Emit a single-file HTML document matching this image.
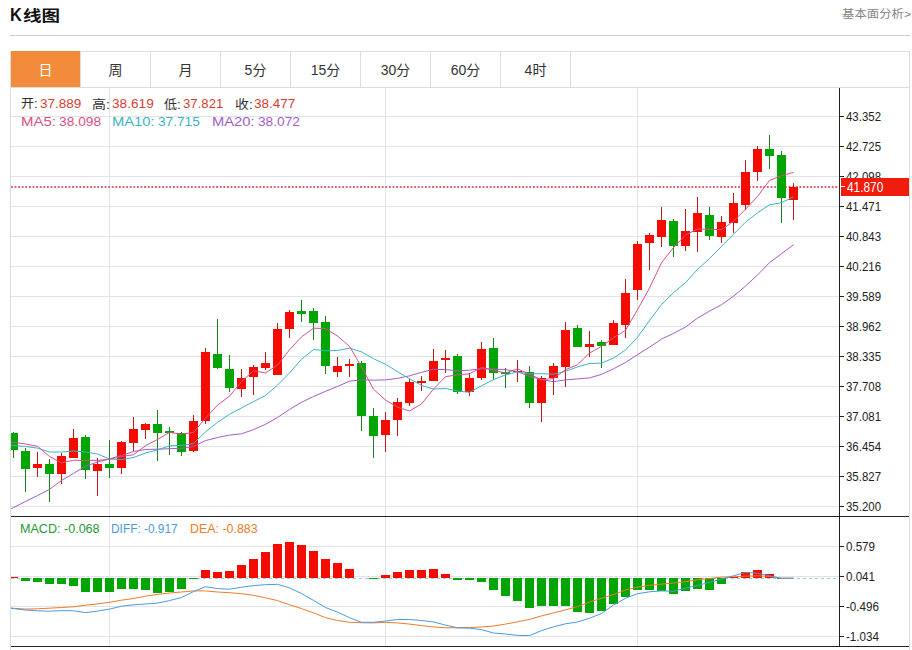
<!DOCTYPE html>
<html><head><meta charset="utf-8"><title>K线图</title>
<style>
html,body{margin:0;padding:0;background:#fff;}
#wrap{position:relative;width:912px;height:650px;overflow:hidden;background:#fff;font-family:"Liberation Sans","Noto Sans CJK SC",sans-serif;}
.abs{position:absolute;white-space:nowrap;}
.tx{position:absolute;white-space:nowrap;line-height:1;transform-origin:0 0;}
#hr{left:10px;top:35px;width:900px;height:1px;background:#d0d0d0;}
#tabs{left:10px;top:51px;width:898px;height:35px;border:1px solid #dcdcdc;border-bottom:none;}
.tab{position:absolute;top:0;height:35px;width:69px;border-right:1px solid #dcdcdc;text-align:center;line-height:36px;font-size:14px;color:#333;}
.tab.on{background:#f28b3a;color:#fff;top:-1px;height:36px;line-height:39px;}
#chart{left:10px;top:87px;width:898px;height:563px;border:1px solid #dcdcdc;border-bottom:none;}
svg text{font-family:"Liberation Sans","Noto Sans CJK SC",sans-serif;font-size:13px;fill:#222;}

</style></head><body>
<div id="wrap">
<div id="hr" class="abs"></div>
<div id="tabs" class="abs">
<div class="tab on" style="left:0">日</div>
<div class="tab" style="left:70px">周</div>
<div class="tab" style="left:140px">月</div>
<div class="tab" style="left:210px">5分</div>
<div class="tab" style="left:280px">15分</div>
<div class="tab" style="left:350px">30分</div>
<div class="tab" style="left:420px">60分</div>
<div class="tab" style="left:490px">4时</div>
</div>
<div id="chart" class="abs"></div>
<svg class="abs" style="left:0;top:0" width="912" height="650" viewBox="0 0 912 650" shape-rendering="crispEdges">
<defs>
<clipPath id="cmain"><rect x="11" y="88" width="828" height="428"/></clipPath>
<clipPath id="cmacd"><rect x="11" y="517" width="828" height="129"/></clipPath>
</defs>
<line x1="11" y1="116.5" x2="839" y2="116.5" stroke="#e0e4e9" stroke-width="1"/>
<line x1="11" y1="146.5" x2="839" y2="146.5" stroke="#e0e4e9" stroke-width="1"/>
<line x1="11" y1="176.5" x2="839" y2="176.5" stroke="#e0e4e9" stroke-width="1"/>
<line x1="11" y1="206.5" x2="839" y2="206.5" stroke="#e0e4e9" stroke-width="1"/>
<line x1="11" y1="236.5" x2="839" y2="236.5" stroke="#e0e4e9" stroke-width="1"/>
<line x1="11" y1="266.5" x2="839" y2="266.5" stroke="#e0e4e9" stroke-width="1"/>
<line x1="11" y1="296.5" x2="839" y2="296.5" stroke="#e0e4e9" stroke-width="1"/>
<line x1="11" y1="326.5" x2="839" y2="326.5" stroke="#e0e4e9" stroke-width="1"/>
<line x1="11" y1="356.5" x2="839" y2="356.5" stroke="#e0e4e9" stroke-width="1"/>
<line x1="11" y1="386.5" x2="839" y2="386.5" stroke="#e0e4e9" stroke-width="1"/>
<line x1="11" y1="416.5" x2="839" y2="416.5" stroke="#e0e4e9" stroke-width="1"/>
<line x1="11" y1="446.5" x2="839" y2="446.5" stroke="#e0e4e9" stroke-width="1"/>
<line x1="11" y1="476.5" x2="839" y2="476.5" stroke="#e0e4e9" stroke-width="1"/>
<line x1="11" y1="506.5" x2="839" y2="506.5" stroke="#e0e4e9" stroke-width="1"/>
<line x1="109.5" y1="88" x2="109.5" y2="516" stroke="#e0e4e9" stroke-width="1"/>
<line x1="109.5" y1="517" x2="109.5" y2="646" stroke="#e0e4e9" stroke-width="1"/>
<line x1="385.5" y1="88" x2="385.5" y2="516" stroke="#e0e4e9" stroke-width="1"/>
<line x1="385.5" y1="517" x2="385.5" y2="646" stroke="#e0e4e9" stroke-width="1"/>
<line x1="637.5" y1="88" x2="637.5" y2="516" stroke="#e0e4e9" stroke-width="1"/>
<line x1="637.5" y1="517" x2="637.5" y2="646" stroke="#e0e4e9" stroke-width="1"/>
<line x1="11" y1="546.5" x2="839" y2="546.5" stroke="#e0e4e9" stroke-width="1"/>
<line x1="11" y1="576.5" x2="839" y2="576.5" stroke="#e0e4e9" stroke-width="1"/>
<line x1="11" y1="606.5" x2="839" y2="606.5" stroke="#e0e4e9" stroke-width="1"/>
<line x1="11" y1="636.5" x2="839" y2="636.5" stroke="#e0e4e9" stroke-width="1"/>
<line x1="11" y1="187" x2="839" y2="187" stroke="#e0606a" stroke-width="1.8" stroke-dasharray="1.8,1.8" shape-rendering="auto"/>
<g clip-path="url(#cmain)">
<rect x="13.0" y="432" width="1" height="26" fill="#15841c"/>
<rect x="9.0" y="433" width="9" height="17" fill="#03a505"/>
<rect x="25.0" y="448" width="1" height="44" fill="#15841c"/>
<rect x="21.0" y="451" width="9" height="18" fill="#03a505"/>
<rect x="37.0" y="452" width="1" height="25" fill="#c41810"/>
<rect x="33.0" y="464" width="9" height="4" fill="#f40c02"/>
<rect x="49.0" y="459" width="1" height="43" fill="#15841c"/>
<rect x="45.0" y="464" width="9" height="10" fill="#03a505"/>
<rect x="61.0" y="453" width="1" height="31" fill="#c41810"/>
<rect x="57.0" y="456" width="9" height="18" fill="#f40c02"/>
<rect x="73.0" y="429" width="1" height="29" fill="#c41810"/>
<rect x="69.0" y="438" width="9" height="20" fill="#f40c02"/>
<rect x="85.0" y="435" width="1" height="44" fill="#15841c"/>
<rect x="81.0" y="437" width="9" height="33" fill="#03a505"/>
<rect x="97.0" y="458" width="1" height="38" fill="#c41810"/>
<rect x="93.0" y="464" width="9" height="7" fill="#f40c02"/>
<rect x="109.0" y="440" width="1" height="38" fill="#15841c"/>
<rect x="105.0" y="464" width="9" height="4" fill="#03a505"/>
<rect x="121.0" y="441" width="1" height="33" fill="#c41810"/>
<rect x="117.0" y="442" width="9" height="26" fill="#f40c02"/>
<rect x="133.0" y="417" width="1" height="34" fill="#c41810"/>
<rect x="129.0" y="429" width="9" height="14" fill="#f40c02"/>
<rect x="145.0" y="423" width="1" height="16" fill="#c41810"/>
<rect x="141.0" y="424" width="9" height="6" fill="#f40c02"/>
<rect x="157.0" y="410" width="1" height="51" fill="#15841c"/>
<rect x="153.0" y="424" width="9" height="9" fill="#03a505"/>
<rect x="169.0" y="427" width="1" height="28" fill="#15841c"/>
<rect x="165.0" y="431" width="9" height="2" fill="#03a505"/>
<rect x="181.0" y="432" width="1" height="24" fill="#15841c"/>
<rect x="177.0" y="433" width="9" height="19" fill="#03a505"/>
<rect x="193.0" y="415" width="1" height="37" fill="#c41810"/>
<rect x="189.0" y="421" width="9" height="30" fill="#f40c02"/>
<rect x="205.0" y="348" width="1" height="76" fill="#c41810"/>
<rect x="201.0" y="352" width="9" height="69" fill="#f40c02"/>
<rect x="217.0" y="319" width="1" height="50" fill="#15841c"/>
<rect x="213.0" y="354" width="9" height="14" fill="#03a505"/>
<rect x="229.0" y="355" width="1" height="37" fill="#15841c"/>
<rect x="225.0" y="369" width="9" height="19" fill="#03a505"/>
<rect x="241.0" y="369" width="1" height="28" fill="#c41810"/>
<rect x="237.0" y="378" width="9" height="11" fill="#f40c02"/>
<rect x="253.0" y="365" width="1" height="30" fill="#c41810"/>
<rect x="249.0" y="367" width="9" height="10" fill="#f40c02"/>
<rect x="265.0" y="352" width="1" height="18" fill="#c41810"/>
<rect x="261.0" y="363" width="9" height="5" fill="#f40c02"/>
<rect x="277.0" y="323" width="1" height="52" fill="#c41810"/>
<rect x="273.0" y="329" width="9" height="46" fill="#f40c02"/>
<rect x="289.0" y="310" width="1" height="28" fill="#c41810"/>
<rect x="285.0" y="312" width="9" height="17" fill="#f40c02"/>
<rect x="301.0" y="300" width="1" height="22" fill="#15841c"/>
<rect x="297.0" y="311" width="9" height="3" fill="#03a505"/>
<rect x="313.0" y="308" width="1" height="32" fill="#15841c"/>
<rect x="309.0" y="311" width="9" height="12" fill="#03a505"/>
<rect x="325.0" y="316" width="1" height="58" fill="#15841c"/>
<rect x="321.0" y="322" width="9" height="44" fill="#03a505"/>
<rect x="337.0" y="357" width="1" height="20" fill="#c41810"/>
<rect x="333.0" y="366" width="9" height="6" fill="#f40c02"/>
<rect x="349.0" y="359" width="1" height="18" fill="#c41810"/>
<rect x="345.0" y="364" width="9" height="2" fill="#f40c02"/>
<rect x="361.0" y="361" width="1" height="70" fill="#15841c"/>
<rect x="357.0" y="363" width="9" height="53" fill="#03a505"/>
<rect x="373.0" y="408" width="1" height="50" fill="#15841c"/>
<rect x="369.0" y="416" width="9" height="20" fill="#03a505"/>
<rect x="385.0" y="412" width="1" height="40" fill="#c41810"/>
<rect x="381.0" y="420" width="9" height="15" fill="#f40c02"/>
<rect x="397.0" y="398" width="1" height="38" fill="#c41810"/>
<rect x="393.0" y="402" width="9" height="18" fill="#f40c02"/>
<rect x="409.0" y="379" width="1" height="27" fill="#c41810"/>
<rect x="405.0" y="382" width="9" height="21" fill="#f40c02"/>
<rect x="421.0" y="376" width="1" height="15" fill="#c41810"/>
<rect x="417.0" y="381" width="9" height="2" fill="#f40c02"/>
<rect x="433.0" y="349" width="1" height="32" fill="#c41810"/>
<rect x="429.0" y="361" width="9" height="20" fill="#f40c02"/>
<rect x="445.0" y="350" width="1" height="23" fill="#c41810"/>
<rect x="441.0" y="358" width="9" height="2" fill="#f40c02"/>
<rect x="457.0" y="354" width="1" height="40" fill="#15841c"/>
<rect x="453.0" y="356" width="9" height="36" fill="#03a505"/>
<rect x="469.0" y="373" width="1" height="23" fill="#c41810"/>
<rect x="465.0" y="378" width="9" height="14" fill="#f40c02"/>
<rect x="481.0" y="342" width="1" height="38" fill="#c41810"/>
<rect x="477.0" y="349" width="9" height="29" fill="#f40c02"/>
<rect x="493.0" y="338" width="1" height="42" fill="#15841c"/>
<rect x="489.0" y="348" width="9" height="25" fill="#03a505"/>
<rect x="505.0" y="368" width="1" height="20" fill="#15841c"/>
<rect x="501.0" y="372" width="9" height="2" fill="#03a505"/>
<rect x="517.0" y="360" width="1" height="22" fill="#c41810"/>
<rect x="513.0" y="371" width="9" height="1" fill="#f40c02"/>
<rect x="529.0" y="366" width="1" height="42" fill="#15841c"/>
<rect x="525.0" y="372" width="9" height="31" fill="#03a505"/>
<rect x="541.0" y="376" width="1" height="46" fill="#c41810"/>
<rect x="537.0" y="378" width="9" height="25" fill="#f40c02"/>
<rect x="553.0" y="363" width="1" height="32" fill="#c41810"/>
<rect x="549.0" y="366" width="9" height="12" fill="#f40c02"/>
<rect x="565.0" y="322" width="1" height="65" fill="#c41810"/>
<rect x="561.0" y="330" width="9" height="37" fill="#f40c02"/>
<rect x="577.0" y="325" width="1" height="22" fill="#15841c"/>
<rect x="573.0" y="328" width="9" height="19" fill="#03a505"/>
<rect x="589.0" y="331" width="1" height="26" fill="#c41810"/>
<rect x="585.0" y="344" width="9" height="3" fill="#f40c02"/>
<rect x="601.0" y="340" width="1" height="28" fill="#15841c"/>
<rect x="597.0" y="342" width="9" height="4" fill="#03a505"/>
<rect x="613.0" y="320" width="1" height="25" fill="#c41810"/>
<rect x="609.0" y="323" width="9" height="22" fill="#f40c02"/>
<rect x="625.0" y="279" width="1" height="59" fill="#c41810"/>
<rect x="621.0" y="293" width="9" height="32" fill="#f40c02"/>
<rect x="637.0" y="241" width="1" height="59" fill="#c41810"/>
<rect x="633.0" y="244" width="9" height="46" fill="#f40c02"/>
<rect x="649.0" y="233" width="1" height="37" fill="#c41810"/>
<rect x="645.0" y="235" width="9" height="8" fill="#f40c02"/>
<rect x="661.0" y="207" width="1" height="40" fill="#c41810"/>
<rect x="657.0" y="220" width="9" height="17" fill="#f40c02"/>
<rect x="673.0" y="219" width="1" height="38" fill="#15841c"/>
<rect x="669.0" y="221" width="9" height="25" fill="#03a505"/>
<rect x="685.0" y="209" width="1" height="42" fill="#c41810"/>
<rect x="681.0" y="231" width="9" height="15" fill="#f40c02"/>
<rect x="697.0" y="197" width="1" height="55" fill="#c41810"/>
<rect x="693.0" y="213" width="9" height="19" fill="#f40c02"/>
<rect x="709.0" y="207" width="1" height="33" fill="#15841c"/>
<rect x="705.0" y="215" width="9" height="21" fill="#03a505"/>
<rect x="721.0" y="216" width="1" height="27" fill="#c41810"/>
<rect x="717.0" y="222" width="9" height="15" fill="#f40c02"/>
<rect x="733.0" y="193" width="1" height="40" fill="#c41810"/>
<rect x="729.0" y="203" width="9" height="20" fill="#f40c02"/>
<rect x="745.0" y="160" width="1" height="50" fill="#c41810"/>
<rect x="741.0" y="172" width="9" height="33" fill="#f40c02"/>
<rect x="757.0" y="146" width="1" height="35" fill="#c41810"/>
<rect x="753.0" y="149" width="9" height="23" fill="#f40c02"/>
<rect x="769.0" y="135" width="1" height="34" fill="#15841c"/>
<rect x="765.0" y="149" width="9" height="7" fill="#03a505"/>
<rect x="781.0" y="151" width="1" height="72" fill="#15841c"/>
<rect x="777.0" y="155" width="9" height="43" fill="#03a505"/>
<rect x="793.0" y="183" width="1" height="37" fill="#c41810"/>
<rect x="789.0" y="187" width="9" height="13" fill="#f40c02"/>
</g>
<g clip-path="url(#cmain)" fill="none" stroke-width="1" stroke-linejoin="round" shape-rendering="auto">
<polyline points="10.5,509.1 13.5,507.6 25.5,501.5 37.5,495.5 49.5,489.4 61.5,480.5 73.5,473.4 85.5,466.2 97.5,462.0 109.5,458.9 121.5,455.4 133.5,451.5 145.5,449.5 157.5,449.2 169.5,448.7 181.5,448.3 193.5,446.5 205.5,440.6 217.5,437.5 229.5,435.1 241.5,433.8 253.5,429.6 265.5,424.3 277.5,417.5 289.5,409.4 301.5,402.3 313.5,396.5 325.5,391.3 337.5,386.4 349.5,381.2 361.5,379.8 373.5,380.2 385.5,379.9 397.5,378.4 409.5,375.8 421.5,372.3 433.5,369.3 445.5,369.6 457.5,370.8 469.5,370.2 481.5,368.8 493.5,369.1 505.5,369.6 517.5,371.7 529.5,376.3 541.5,379.5 553.5,381.7 565.5,379.9 577.5,378.9 589.5,377.9 601.5,374.4 613.5,368.8 625.5,362.5 637.5,354.6 649.5,347.2 661.5,339.1 673.5,333.4 685.5,327.1 697.5,318.1 709.5,311.1 721.5,304.7 733.5,296.2 745.5,286.1 757.5,275.0 769.5,262.7 781.5,253.7 793.5,244.7" stroke="#a45cc8"/>
<polyline points="10.5,445.2 13.5,445.5 25.5,446.5 37.5,448.1 49.5,452.0 61.5,452.0 73.5,451.0 85.5,452.0 97.5,454.0 109.5,459.0 121.5,459.6 133.5,457.5 145.5,453.0 157.5,449.9 169.5,445.8 181.5,445.4 193.5,443.6 205.5,431.9 217.5,422.3 229.5,414.3 241.5,407.9 253.5,401.6 265.5,395.5 277.5,385.1 289.5,373.0 301.5,359.2 313.5,349.5 325.5,350.8 337.5,350.5 349.5,348.1 361.5,351.8 373.5,358.7 385.5,364.3 397.5,371.6 409.5,378.7 421.5,385.4 433.5,389.1 445.5,388.4 457.5,391.0 469.5,392.4 481.5,385.8 493.5,379.5 505.5,374.9 517.5,371.9 529.5,373.9 541.5,373.7 553.5,374.2 565.5,371.4 577.5,366.9 589.5,363.5 601.5,363.1 613.5,358.1 625.5,350.0 637.5,337.3 649.5,320.5 661.5,304.6 673.5,292.6 685.5,282.7 697.5,269.4 709.5,258.6 721.5,246.3 733.5,234.3 745.5,222.2 757.5,212.8 769.5,204.8 781.5,202.7 793.5,196.8" stroke="#3ab4c4"/>
<polyline points="10.5,441.9 13.5,442.3 25.5,444.0 37.5,446.3 49.5,456.5 61.5,462.8 73.5,460.3 85.5,460.4 97.5,460.4 109.5,459.3 121.5,456.5 133.5,454.7 145.5,445.7 157.5,439.4 169.5,432.4 181.5,434.2 193.5,432.5 205.5,418.1 217.5,405.2 229.5,396.2 241.5,381.5 253.5,370.8 265.5,372.9 277.5,365.1 289.5,349.8 301.5,336.9 313.5,328.2 325.5,328.6 337.5,336.0 349.5,346.4 361.5,366.8 373.5,389.2 385.5,400.0 397.5,407.2 409.5,411.0 421.5,404.0 433.5,389.0 445.5,376.7 457.5,374.8 469.5,373.8 481.5,367.5 493.5,370.0 505.5,373.1 517.5,368.9 529.5,374.0 541.5,379.8 553.5,378.5 565.5,369.7 577.5,364.8 589.5,353.0 601.5,346.4 613.5,337.7 625.5,330.3 637.5,309.7 649.5,288.0 661.5,262.8 673.5,247.5 685.5,235.1 697.5,229.0 709.5,229.3 721.5,229.7 733.5,221.1 745.5,209.3 757.5,196.5 769.5,180.4 781.5,175.7 793.5,172.4" stroke="#dc5088"/>
</g>
<g clip-path="url(#cmacd)">
<line x1="11" y1="578.5" x2="839" y2="578.5" stroke="#a4c8d2" stroke-width="1" stroke-dasharray="3,3"/>
<rect x="9.0" y="577" width="9" height="1" fill="#f40c02"/>
<rect x="21.0" y="578" width="9" height="3" fill="#03a505"/>
<rect x="33.0" y="578" width="9" height="4" fill="#03a505"/>
<rect x="45.0" y="578" width="9" height="6" fill="#03a505"/>
<rect x="57.0" y="578" width="9" height="6" fill="#03a505"/>
<rect x="69.0" y="578" width="9" height="8" fill="#03a505"/>
<rect x="81.0" y="578" width="9" height="14" fill="#03a505"/>
<rect x="93.0" y="578" width="9" height="14" fill="#03a505"/>
<rect x="105.0" y="578" width="9" height="14" fill="#03a505"/>
<rect x="117.0" y="578" width="9" height="11" fill="#03a505"/>
<rect x="129.0" y="578" width="9" height="11" fill="#03a505"/>
<rect x="141.0" y="578" width="9" height="12" fill="#03a505"/>
<rect x="153.0" y="578" width="9" height="15" fill="#03a505"/>
<rect x="165.0" y="578" width="9" height="14" fill="#03a505"/>
<rect x="177.0" y="578" width="9" height="11" fill="#03a505"/>
<rect x="189.0" y="578" width="9" height="1" fill="#03a505"/>
<rect x="201.0" y="570" width="9" height="8" fill="#f40c02"/>
<rect x="213.0" y="572" width="9" height="6" fill="#f40c02"/>
<rect x="225.0" y="571" width="9" height="7" fill="#f40c02"/>
<rect x="237.0" y="565" width="9" height="13" fill="#f40c02"/>
<rect x="249.0" y="559" width="9" height="19" fill="#f40c02"/>
<rect x="261.0" y="552" width="9" height="26" fill="#f40c02"/>
<rect x="273.0" y="544" width="9" height="34" fill="#f40c02"/>
<rect x="285.0" y="542" width="9" height="36" fill="#f40c02"/>
<rect x="297.0" y="545" width="9" height="33" fill="#f40c02"/>
<rect x="309.0" y="551" width="9" height="27" fill="#f40c02"/>
<rect x="321.0" y="559" width="9" height="19" fill="#f40c02"/>
<rect x="333.0" y="563" width="9" height="15" fill="#f40c02"/>
<rect x="345.0" y="569" width="9" height="9" fill="#f40c02"/>
<rect x="369.0" y="578" width="9" height="1" fill="#03a505"/>
<rect x="381.0" y="575" width="9" height="3" fill="#f40c02"/>
<rect x="393.0" y="572" width="9" height="6" fill="#f40c02"/>
<rect x="405.0" y="570" width="9" height="8" fill="#f40c02"/>
<rect x="417.0" y="570" width="9" height="8" fill="#f40c02"/>
<rect x="429.0" y="569" width="9" height="9" fill="#f40c02"/>
<rect x="441.0" y="574" width="9" height="4" fill="#f40c02"/>
<rect x="453.0" y="578" width="9" height="2" fill="#03a505"/>
<rect x="465.0" y="578" width="9" height="2" fill="#03a505"/>
<rect x="477.0" y="578" width="9" height="4" fill="#03a505"/>
<rect x="489.0" y="578" width="9" height="12" fill="#03a505"/>
<rect x="501.0" y="578" width="9" height="18" fill="#03a505"/>
<rect x="513.0" y="578" width="9" height="23" fill="#03a505"/>
<rect x="525.0" y="578" width="9" height="30" fill="#03a505"/>
<rect x="537.0" y="578" width="9" height="28" fill="#03a505"/>
<rect x="549.0" y="578" width="9" height="28" fill="#03a505"/>
<rect x="561.0" y="578" width="9" height="28" fill="#03a505"/>
<rect x="573.0" y="578" width="9" height="34" fill="#03a505"/>
<rect x="585.0" y="578" width="9" height="35" fill="#03a505"/>
<rect x="597.0" y="578" width="9" height="33" fill="#03a505"/>
<rect x="609.0" y="578" width="9" height="26" fill="#03a505"/>
<rect x="621.0" y="578" width="9" height="19" fill="#03a505"/>
<rect x="633.0" y="578" width="9" height="12" fill="#03a505"/>
<rect x="645.0" y="578" width="9" height="12" fill="#03a505"/>
<rect x="657.0" y="578" width="9" height="13" fill="#03a505"/>
<rect x="669.0" y="578" width="9" height="16" fill="#03a505"/>
<rect x="681.0" y="578" width="9" height="13" fill="#03a505"/>
<rect x="693.0" y="578" width="9" height="11" fill="#03a505"/>
<rect x="705.0" y="578" width="9" height="12" fill="#03a505"/>
<rect x="717.0" y="578" width="9" height="6" fill="#03a505"/>
<rect x="729.0" y="577" width="9" height="1" fill="#f40c02"/>
<rect x="741.0" y="572" width="9" height="6" fill="#f40c02"/>
<rect x="753.0" y="570" width="9" height="8" fill="#f40c02"/>
<rect x="765.0" y="574" width="9" height="4" fill="#f40c02"/>
<rect x="777.0" y="578" width="9" height="1" fill="#03a505"/>
<polyline points="10.5,608.1 13.5,608.3 25.5,609.1 37.5,608.8 49.5,608.2 61.5,607.5 73.5,606.8 85.5,605.2 97.5,603.9 109.5,602.3 121.5,600.2 133.5,598.5 145.5,596.2 157.5,594.4 169.5,593.0 181.5,592.0 193.5,590.9 205.5,590.9 217.5,592.0 229.5,592.7 241.5,593.7 253.5,595.3 265.5,597.8 277.5,600.6 289.5,604.7 301.5,608.6 313.5,612.8 325.5,617.7 337.5,620.5 349.5,622.3 361.5,622.7 373.5,622.9 385.5,622.3 397.5,622.9 409.5,624.1 421.5,625.6 433.5,626.9 445.5,627.8 457.5,627.8 469.5,627.5 481.5,627.0 493.5,626.0 505.5,624.1 517.5,621.8 529.5,619.4 541.5,615.9 553.5,612.9 565.5,609.9 577.5,606.6 589.5,602.0 601.5,598.3 613.5,594.6 625.5,590.0 637.5,587.2 649.5,585.4 661.5,584.1 673.5,583.0 685.5,581.7 697.5,579.8 709.5,578.5 721.5,577.1 733.5,576.8 745.5,576.1 757.5,575.8 769.5,576.4 781.5,578.2 793.5,578.2" fill="none" stroke="#f07a28" stroke-width="1" shape-rendering="auto"/>
<polyline points="10.5,608.1 13.5,608.5 25.5,610.0 37.5,610.8 49.5,611.2 61.5,610.6 73.5,610.8 85.5,612.6 97.5,611.1 109.5,609.1 121.5,606.2 133.5,604.8 145.5,604.0 157.5,603.1 169.5,600.6 181.5,597.5 193.5,591.6 205.5,586.7 217.5,588.6 229.5,589.2 241.5,587.2 253.5,585.6 265.5,584.7 277.5,584.3 289.5,587.9 301.5,593.5 313.5,600.4 325.5,607.5 337.5,612.1 349.5,617.7 361.5,622.3 373.5,622.3 385.5,621.0 397.5,619.5 409.5,619.5 421.5,620.5 433.5,621.9 445.5,625.1 457.5,627.8 469.5,628.2 481.5,629.6 493.5,633.0 505.5,634.0 517.5,635.4 529.5,635.6 541.5,630.6 553.5,626.9 565.5,623.8 577.5,622.0 589.5,618.2 601.5,613.5 613.5,605.0 625.5,598.3 637.5,593.7 649.5,591.8 661.5,590.9 673.5,591.3 685.5,588.2 697.5,585.5 709.5,582.4 721.5,579.1 733.5,575.8 745.5,572.5 757.5,573.2 769.5,575.8 781.5,578.4 793.5,578.2" fill="none" stroke="#4a9ae0" stroke-width="1" shape-rendering="auto"/>
</g>
<line x1="839.5" y1="88" x2="839.5" y2="647" stroke="#222" stroke-width="1"/>
<line x1="11" y1="516.5" x2="909" y2="516.5" stroke="#222" stroke-width="1"/>
<line x1="11" y1="646.5" x2="909" y2="646.5" stroke="#222" stroke-width="1"/>
<line x1="840" y1="116.5" x2="844" y2="116.5" stroke="#222" stroke-width="1"/>
<text x="846" y="121" textLength="35" lengthAdjust="spacingAndGlyphs">43.352</text>
<line x1="840" y1="146.5" x2="844" y2="146.5" stroke="#222" stroke-width="1"/>
<text x="846" y="151" textLength="35" lengthAdjust="spacingAndGlyphs">42.725</text>
<line x1="840" y1="176.5" x2="844" y2="176.5" stroke="#222" stroke-width="1"/>
<text x="846" y="181" textLength="35" lengthAdjust="spacingAndGlyphs">42.098</text>
<line x1="840" y1="206.5" x2="844" y2="206.5" stroke="#222" stroke-width="1"/>
<text x="846" y="211" textLength="35" lengthAdjust="spacingAndGlyphs">41.471</text>
<line x1="840" y1="236.5" x2="844" y2="236.5" stroke="#222" stroke-width="1"/>
<text x="846" y="241" textLength="35" lengthAdjust="spacingAndGlyphs">40.843</text>
<line x1="840" y1="266.5" x2="844" y2="266.5" stroke="#222" stroke-width="1"/>
<text x="846" y="271" textLength="35" lengthAdjust="spacingAndGlyphs">40.216</text>
<line x1="840" y1="296.5" x2="844" y2="296.5" stroke="#222" stroke-width="1"/>
<text x="846" y="301" textLength="35" lengthAdjust="spacingAndGlyphs">39.589</text>
<line x1="840" y1="326.5" x2="844" y2="326.5" stroke="#222" stroke-width="1"/>
<text x="846" y="331" textLength="35" lengthAdjust="spacingAndGlyphs">38.962</text>
<line x1="840" y1="356.5" x2="844" y2="356.5" stroke="#222" stroke-width="1"/>
<text x="846" y="361" textLength="35" lengthAdjust="spacingAndGlyphs">38.335</text>
<line x1="840" y1="386.5" x2="844" y2="386.5" stroke="#222" stroke-width="1"/>
<text x="846" y="391" textLength="35" lengthAdjust="spacingAndGlyphs">37.708</text>
<line x1="840" y1="416.5" x2="844" y2="416.5" stroke="#222" stroke-width="1"/>
<text x="846" y="421" textLength="35" lengthAdjust="spacingAndGlyphs">37.081</text>
<line x1="840" y1="446.5" x2="844" y2="446.5" stroke="#222" stroke-width="1"/>
<text x="846" y="451" textLength="35" lengthAdjust="spacingAndGlyphs">36.454</text>
<line x1="840" y1="476.5" x2="844" y2="476.5" stroke="#222" stroke-width="1"/>
<text x="846" y="481" textLength="35" lengthAdjust="spacingAndGlyphs">35.827</text>
<line x1="840" y1="506.5" x2="844" y2="506.5" stroke="#222" stroke-width="1"/>
<text x="846" y="511" textLength="35" lengthAdjust="spacingAndGlyphs">35.200</text>
<line x1="840" y1="546.5" x2="844" y2="546.5" stroke="#222" stroke-width="1"/>
<text x="846" y="551" textLength="29" lengthAdjust="spacingAndGlyphs">0.579</text>
<line x1="840" y1="576.5" x2="844" y2="576.5" stroke="#222" stroke-width="1"/>
<text x="846" y="581" textLength="29" lengthAdjust="spacingAndGlyphs">0.041</text>
<line x1="840" y1="606.5" x2="844" y2="606.5" stroke="#222" stroke-width="1"/>
<text x="846" y="611" textLength="33" lengthAdjust="spacingAndGlyphs">-0.496</text>
<line x1="840" y1="636.5" x2="844" y2="636.5" stroke="#222" stroke-width="1"/>
<text x="846" y="641" textLength="33" lengthAdjust="spacingAndGlyphs">-1.034</text>
<rect x="841" y="178" width="68" height="18" fill="#f01c0c"/>
<line x1="841" y1="186.5" x2="845" y2="186.5" stroke="#fff" stroke-width="1"/>
<text x="847" y="192" style="fill:#fff;font-size:13.8px" textLength="36.3" lengthAdjust="spacingAndGlyphs">41.870</text>
</svg>
<div class="tx" id="t_k" style="left:10.20px;top:6.70px;font-size:17.5px;font-weight:bold;color:#111;font-family:'Liberation Sans','Noto Sans CJK SC',sans-serif;transform:scaleX(0.9367);">K</div>
<div class="tx" id="t_xt" style="left:22.74px;top:7.90px;font-size:14.8px;font-weight:bold;color:#111;font-family:'Noto Sans CJK SC','Liberation Sans',sans-serif;transform:scaleX(1.2530);">线图</div>
<div class="tx" id="t_more" style="left:841.94px;top:9.10px;font-size:11.5px;font-weight:normal;color:#858585;font-family:'Liberation Sans','Noto Sans CJK SC',sans-serif;transform:scaleX(1.0764);">基本面分析&gt;</div>
<div class="tx" id="h_k" style="left:21.29px;top:97.60px;font-size:12.5px;font-weight:normal;color:#333;font-family:'Liberation Sans','Noto Sans CJK SC',sans-serif;transform:scaleX(1.0460);">开:</div>
<div class="tx" id="h_kv" style="left:39.90px;top:97.00px;font-size:13.5px;font-weight:normal;color:#d63e34;font-family:'Liberation Sans','Noto Sans CJK SC',sans-serif;transform:scaleX(1.0009);">37.889</div>
<div class="tx" id="h_g" style="left:92.14px;top:98.80px;font-size:12.5px;font-weight:normal;color:#333;font-family:'Liberation Sans','Noto Sans CJK SC',sans-serif;transform:scaleX(1.1157);">高:</div>
<div class="tx" id="h_gv" style="left:111.57px;top:97.00px;font-size:13.5px;font-weight:normal;color:#d63e34;font-family:'Liberation Sans','Noto Sans CJK SC',sans-serif;transform:scaleX(1.0109);">38.619</div>
<div class="tx" id="h_d" style="left:164.22px;top:98.60px;font-size:12.5px;font-weight:normal;color:#333;font-family:'Liberation Sans','Noto Sans CJK SC',sans-serif;transform:scaleX(1.0460);">低:</div>
<div class="tx" id="h_dv" style="left:183.00px;top:97.00px;font-size:13.5px;font-weight:normal;color:#d63e34;font-family:'Liberation Sans','Noto Sans CJK SC',sans-serif;transform:scaleX(0.9756);">37.821</div>
<div class="tx" id="h_s" style="left:234.88px;top:98.60px;font-size:12.5px;font-weight:normal;color:#333;font-family:'Liberation Sans','Noto Sans CJK SC',sans-serif;transform:scaleX(1.1157);">收:</div>
<div class="tx" id="h_sv" style="left:254.20px;top:97.00px;font-size:13.5px;font-weight:normal;color:#d63e34;font-family:'Liberation Sans','Noto Sans CJK SC',sans-serif;transform:scaleX(1.0009);">38.477</div>
<div class="tx" id="m5" style="left:20.58px;top:115.00px;font-size:13.5px;font-weight:normal;color:#dc5088;font-family:'Liberation Sans','Noto Sans CJK SC',sans-serif;transform:scaleX(1.1119);">MA5:</div>
<div class="tx" id="m5v" style="left:58.98px;top:115.00px;font-size:13.5px;font-weight:normal;color:#dc5088;font-family:'Liberation Sans','Noto Sans CJK SC',sans-serif;transform:scaleX(1.0203);">38.098</div>
<div class="tx" id="m10" style="left:112.38px;top:115.00px;font-size:13.5px;font-weight:normal;color:#3ab4c4;font-family:'Liberation Sans','Noto Sans CJK SC',sans-serif;transform:scaleX(1.0925);">MA10:</div>
<div class="tx" id="m10v" style="left:158.39px;top:115.00px;font-size:13.5px;font-weight:normal;color:#3ab4c4;font-family:'Liberation Sans','Noto Sans CJK SC',sans-serif;transform:scaleX(1.0107);">37.715</div>
<div class="tx" id="m20" style="left:211.59px;top:115.00px;font-size:13.5px;font-weight:normal;color:#a45cc8;font-family:'Liberation Sans','Noto Sans CJK SC',sans-serif;transform:scaleX(1.0925);">MA20:</div>
<div class="tx" id="m20v" style="left:257.98px;top:115.00px;font-size:13.5px;font-weight:normal;color:#a45cc8;font-family:'Liberation Sans','Noto Sans CJK SC',sans-serif;transform:scaleX(1.0155);">38.072</div>
<div class="tx" id="macd" style="left:20.39px;top:521.60px;font-size:13px;font-weight:normal;color:#259a35;font-family:'Liberation Sans','Noto Sans CJK SC',sans-serif;transform:scaleX(0.9663);">MACD: -0.068</div>
<div class="tx" id="diff" style="left:111.09px;top:521.60px;font-size:13px;font-weight:normal;color:#4a9ae0;font-family:'Liberation Sans','Noto Sans CJK SC',sans-serif;transform:scaleX(0.9140);">DIFF: -0.917</div>
<div class="tx" id="dea" style="left:189.81px;top:521.60px;font-size:13px;font-weight:normal;color:#f07a28;font-family:'Liberation Sans','Noto Sans CJK SC',sans-serif;transform:scaleX(0.9548);">DEA: -0.883</div>
</div>
</body></html>
